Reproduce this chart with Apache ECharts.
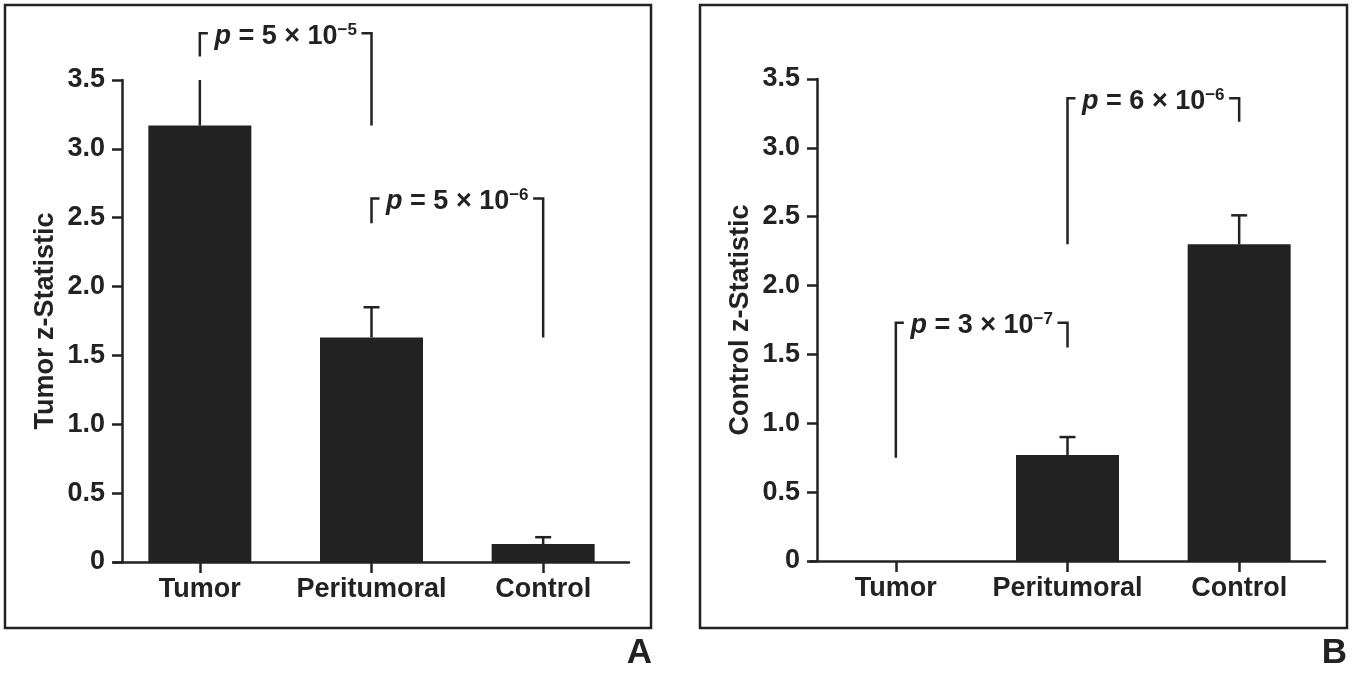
<!DOCTYPE html>
<html>
<head>
<meta charset="utf-8">
<script src="https://cdn.jsdelivr.net/npm/echarts@6/dist/echarts.min.js"></script>
<style>
  html, body { margin: 0; padding: 0; background: #fff; }
  #main { width: 1355px; height: 673px; }
</style>
</head>
<body>
<div id="main"></div>
<script>
const categories = ['Tumor', 'Peritumoral', 'Control'];

// panel A: tumor z-statistic
const tumorMeans = [3.17, 1.63, 0.13];
const tumorErrTops = [3.5, 1.85, 0.18];
// [fromCat, toCat, top, leftFoot, rightFoot]
const tumorBrackets = [[0, 1, 3.84, 3.67, 3.17], [1, 2, 2.64, 2.46, 1.63]];
const tumorPValues = [['5', '−5'], ['5', '−6']];

// panel B: control z-statistic
const controlMeans = [0, 0.77, 2.30];
const controlErrTops = [null, 0.90, 2.51];
const controlBrackets = [[0, 1, 1.73, 0.75, 1.55], [1, 2, 3.36, 2.30, 3.19]];
const controlPValues = [['3', '−7'], ['6', '−6']];

const yMax = 3.5;
const ink = '#222';
const font = '"Liberation Sans", Arial, sans-serif';

const chart = echarts.init(document.getElementById('main'));

function xAxisFor(gridIndex) {
  return {
    type: 'category',
    gridIndex: gridIndex,
    data: categories,
    axisLine: { show: true, onZero: false, lineStyle: { color: ink, width: 2.5 } },
    axisTick: { show: true, alignWithLabel: true, interval: 0, length: 11, lineStyle: { color: ink, width: 2.5 } },
    axisLabel: { interval: 0, color: ink, fontSize: 27, fontWeight: 'bold', fontFamily: font, margin: 14 }
  };
}

function yAxisFor(gridIndex, name, offset) {
  return {
    type: 'value',
    gridIndex: gridIndex,
    min: 0,
    max: yMax,
    interval: 0.5,
    offset: offset,
    name: name,
    nameLocation: 'middle',
    nameGap: 63,
    nameTextStyle: { color: ink, fontSize: 27, fontWeight: 'bold', fontFamily: font },
    splitLine: { show: false },
    axisLine: { show: true, lineStyle: { color: ink, width: 2.5 } },
    axisTick: { show: true, length: 10, lineStyle: { color: ink, width: 2.5 } },
    axisLabel: {
      color: ink, fontSize: 27, fontWeight: 'bold', fontFamily: font, margin: 17,
      formatter: v => (v === 0 ? '0' : v.toFixed(1))
    }
  };
}

function errorSeries(axisIndex, means, tops) {
  const data = [];
  means.forEach((m, i) => {
    if (tops[i] != null) data.push([i, m, tops[i]]);
  });
  return {
    type: 'custom',
    xAxisIndex: axisIndex,
    yAxisIndex: axisIndex,
    clip: false,
    z: 3,
    data: data,
    renderItem: function (params, api) {
      const base = api.coord([api.value(0), api.value(1)]);
      const top = api.coord([api.value(0), api.value(2)]);
      const style = { stroke: ink, lineWidth: 2.5, fill: null };
      const children = [{
        type: 'line',
        shape: { x1: base[0], y1: base[1], x2: top[0], y2: top[1] },
        style: style
      }];
      // cap is cut off when the bar reaches the axis top
      if (api.value(2) < yMax) {
        children.push({
          type: 'line',
          shape: { x1: top[0] - 8, y1: top[1], x2: top[0] + 8, y2: top[1] },
          style: style
        });
      }
      return { type: 'group', children: children };
    }
  };
}

function bracketSeries(axisIndex, brackets, pvals) {
  return {
    type: 'custom',
    xAxisIndex: axisIndex,
    yAxisIndex: axisIndex,
    clip: false,
    z: 4,
    data: brackets,
    renderItem: function (params, api) {
      const from = api.value(0), to = api.value(1);
      const l = api.coord([from, api.value(2)]);
      const r = api.coord([to, api.value(2)]);
      const lf = api.coord([from, api.value(3)]);
      const rf = api.coord([to, api.value(4)]);
      const pv = pvals[params.dataIndex];
      const style = { stroke: ink, lineWidth: 2.5, fill: null };
      return {
        type: 'group',
        children: [
          { type: 'polyline', shape: { points: [lf, l, [l[0] + 8, l[1]]] }, style: style },
          { type: 'polyline', shape: { points: [[r[0] - 10, r[1]], r, rf] }, style: style },
          {
            type: 'text',
            x: (l[0] + r[0]) / 2,
            y: l[1] + 3,
            style: {
              text: '{p|p}{n| = ' + pv[0] + ' × 10}{s|' + pv[1] + '}',
              align: 'center',
              verticalAlign: 'middle',
              fill: ink,
              rich: {
                p: { fontSize: 27, fontWeight: 'bold', fontStyle: 'italic', fontFamily: font, fill: ink },
                n: { fontSize: 27, fontWeight: 'bold', fontFamily: font, fill: ink },
                s: { fontSize: 17, fontWeight: 'bold', fontFamily: font, fill: ink, verticalAlign: 'top', padding: [0, 0, 12, 0] }
              }
            }
          }
        ]
      };
    }
  };
}

function barSeries(axisIndex, means) {
  return {
    type: 'bar',
    xAxisIndex: axisIndex,
    yAxisIndex: axisIndex,
    barWidth: '60%',
    itemStyle: { color: ink },
    data: means
  };
}

const option = {
  animation: false,
  backgroundColor: '#fff',
  grid: [
    { left: 114, width: 515, top: 80, height: 482 },
    { left: 810, width: 515, top: 79, height: 482 }
  ],
  xAxis: [xAxisFor(0), xAxisFor(1)],
  yAxis: [yAxisFor(0, 'Tumor z-Statistic', -8), yAxisFor(1, 'Control z-Statistic', -7)],
  series: [
    barSeries(0, tumorMeans),
    errorSeries(0, tumorMeans, tumorErrTops),
    bracketSeries(0, tumorBrackets, tumorPValues),
    barSeries(1, controlMeans),
    errorSeries(1, controlMeans, controlErrTops),
    bracketSeries(1, controlBrackets, controlPValues)
  ],
  graphic: [
    { type: 'rect', shape: { x: 5, y: 5, width: 646, height: 623 }, style: { fill: null, stroke: ink, lineWidth: 2.5 }, silent: true },
    { type: 'rect', shape: { x: 700, y: 5, width: 647, height: 623 }, style: { fill: null, stroke: ink, lineWidth: 2.5 }, silent: true },
    { type: 'text', right: 1355 - 652, top: 636, style: { text: 'A', fontSize: 35, fontWeight: 'bold', fontFamily: font, fill: ink } },
    { type: 'text', right: 8, top: 636, style: { text: 'B', fontSize: 35, fontWeight: 'bold', fontFamily: font, fill: ink } }
  ]
};

chart.setOption(option);
</script>
</body>
</html>
